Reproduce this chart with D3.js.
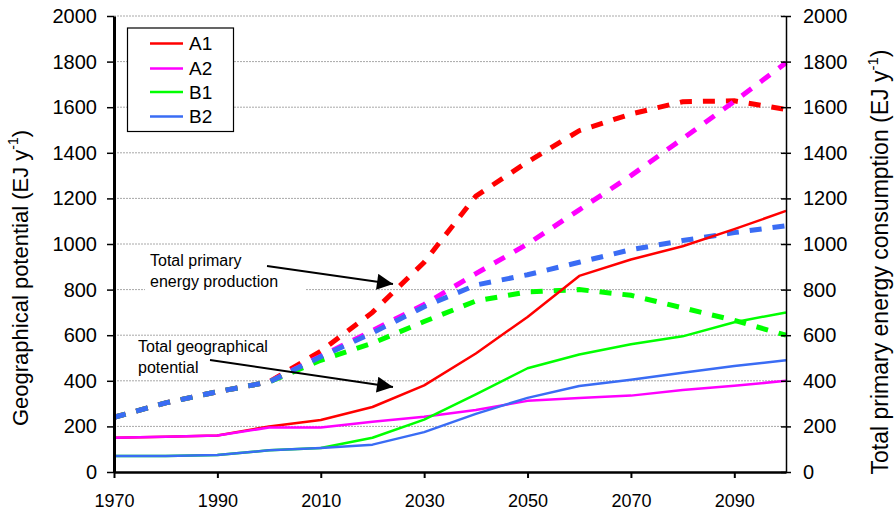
<!DOCTYPE html>
<html>
<head>
<meta charset="utf-8">
<script src="https://cdn.jsdelivr.net/npm/d3@7/dist/d3.min.js"></script>
<style>
  body { margin: 0; background: #fff; }
  text { font-family: Arial, "Liberation Sans", sans-serif; fill: #000; }
</style>
</head>
<body>
<div id="chart-area"></div>
<script>
// data
const years = [1970, 1980, 1990, 2000, 2010, 2020, 2030, 2040, 2050, 2060, 2070, 2080, 2090, 2100];
const scenarios = ['A1', 'A2', 'B1', 'B2'];
const colors = ['#ff0000', '#ff00ff', '#00ff00', '#3a6cf4'];

// total geographical potential (solid)
const potA1 = [150, 155, 160, 200, 228, 285, 380, 520, 680, 860, 932, 990, 1065, 1145];
const potA2 = [150, 155, 160, 195, 195, 220, 242, 272, 312, 325, 335, 360, 378, 400];
const potB1 = [70, 70, 75, 95, 105, 150, 230, 340, 455, 515, 560, 595, 657, 700];
const potB2 = [70, 70, 75, 95, 105, 120, 175, 255, 325, 377, 405, 435, 465, 490];

// total primary energy production (dashed)
const prodA1 = [240, 303, 352, 395, 530, 700, 920, 1210, 1360, 1497, 1570, 1624, 1628, 1590];
const prodA2 = [240, 303, 352, 395, 508, 620, 735, 870, 1000, 1150, 1300, 1462, 1625, 1795];
const prodB1 = [240, 303, 352, 395, 490, 565, 660, 750, 790, 800, 775, 720, 665, 600];
const prodB2 = [240, 303, 352, 395, 505, 610, 725, 820, 865, 920, 975, 1015, 1050, 1080];

const potential = [potA1, potA2, potB1, potB2];
const production = [prodA1, prodA2, prodB1, prodB2];

const xTicks = [1970, 1990, 2010, 2030, 2050, 2070, 2090];
const yTicks = [0, 200, 400, 600, 800, 1000, 1200, 1400, 1600, 1800, 2000];

// margins
const margin = { left: 114, right: 108, top: 16, bottom: 42 };
const W = 894, H = 514;
const width = W - margin.left - margin.right;
const height = H - margin.top - margin.bottom;

const svg = d3.select('#chart-area')
    .append('svg')
        .attr('width', W)
        .attr('height', H);

const g = svg.append('g')
    .attr('transform', `translate(${margin.left}, ${margin.top})`);

const x = d3.scaleLinear().domain([1970, 2100]).range([0, width]);
const y = d3.scaleLinear().domain([0, 2000]).range([height, 0]);

// gridlines
g.append('g')
    .selectAll('line')
    .data(yTicks.filter(t => t > 0))
    .enter()
        .append('line')
            .attr('x1', 0)
            .attr('x2', width)
            .attr('y1', d => y(d))
            .attr('y2', d => y(d))
            .attr('stroke', '#a8a8a8')
            .attr('stroke-width', 1)
            .attr('stroke-dasharray', '2,1');

// white box behind the upper annotation
g.append('rect')
    .attr('x', 31)
    .attr('y', 234)
    .attr('width', 160)
    .attr('height', 43)
    .attr('fill', '#fff');

const line = d3.line()
    .x((d, i) => x(years[i]))
    .y(d => y(d));

// dashed production lines
production.forEach((s, k) => {
    g.append('path')
        .datum(s)
        .attr('d', line)
        .attr('fill', 'none')
        .attr('stroke', colors[k])
        .attr('stroke-width', 5)
        .attr('stroke-dasharray', '12,11');
});

// solid potential lines
potential.forEach((s, k) => {
    g.append('path')
        .datum(s)
        .attr('d', line)
        .attr('fill', 'none')
        .attr('stroke', colors[k])
        .attr('stroke-width', 2.5)
        .attr('stroke-linejoin', 'round');
});

// axes
const xAxisCall = d3.axisBottom(x)
    .tickValues(xTicks)
    .tickFormat(d3.format('d'))
    .tickSizeInner(6)
    .tickSizeOuter(0)
    .tickPadding(16);
const xAxis = g.append('g')
    .attr('transform', `translate(0, ${height})`)
    .call(xAxisCall);
xAxis.select('.domain').attr('stroke-width', 2.5);
xAxis.selectAll('.tick line').attr('stroke-width', 2);
xAxis.selectAll('text').attr('font-size', '18px').attr('font-family', 'Arial, "Liberation Sans", sans-serif');

const yAxisCall = d3.axisLeft(y)
    .tickValues(yTicks)
    .tickFormat(d3.format('d'))
    .tickSizeInner(7)
    .tickSizeOuter(0)
    .tickPadding(10);
const yAxis = g.append('g').call(yAxisCall);
yAxis.select('.domain').attr('stroke-width', 3);
yAxis.selectAll('.tick line').attr('stroke-width', 1.5);
yAxis.selectAll('text').attr('font-size', '20px').attr('font-family', 'Arial, "Liberation Sans", sans-serif');

const y2AxisCall = d3.axisRight(y)
    .tickValues(yTicks)
    .tickFormat(d3.format('d'))
    .tickSizeInner(5)
    .tickSizeOuter(0)
    .tickPadding(12);
const y2Axis = g.append('g')
    .attr('transform', `translate(${width}, 0)`)
    .call(y2AxisCall);
y2Axis.select('.domain').attr('stroke-width', 1.5);
y2Axis.selectAll('.tick line').attr('x1', -5).attr('stroke-width', 1.5);
y2Axis.selectAll('text').attr('font-size', '20px').attr('font-family', 'Arial, "Liberation Sans", sans-serif');

// y labels
const yl = g.append('text')
    .attr('transform', `translate(${28 - margin.left}, ${262}) rotate(-90)`)
    .attr('text-anchor', 'middle')
    .attr('font-size', '22px');
yl.append('tspan').text('Geographical potential  (EJ y');
yl.append('tspan').attr('font-size', '14px').attr('dy', -10).text('-1');
yl.append('tspan').attr('dy', 10).text(')');

const yr = g.append('text')
    .attr('transform', `translate(${width + 102}, ${246}) rotate(-90)`)
    .attr('text-anchor', 'middle')
    .attr('font-size', '23px');
yr.append('tspan').text('Total primary energy consumption (EJ y');
yr.append('tspan').attr('font-size', '15px').attr('dy', -10).text('-1');
yr.append('tspan').attr('dy', 10).text(')');

// annotations
svg.append('defs').append('marker')
    .attr('id', 'head')
    .attr('viewBox', '0 0 10 10')
    .attr('refX', 10)
    .attr('refY', 5)
    .attr('markerWidth', 18)
    .attr('markerHeight', 16)
    .attr('markerUnits', 'userSpaceOnUse')
    .attr('orient', 'auto')
    .append('path')
        .attr('d', 'M0,0 L10,5 L0,10 z')
        .attr('fill', '#000');

const notes = [
    { lines: ['Total primary', 'energy production'], tx: 36, ty: 250, from: [153, 250], to: [279, 268] },
    { lines: ['Total geographical', 'potential'], tx: 24, ty: 336, from: [96, 344], to: [279, 371] }
];
notes.forEach(n => {
    g.append('line')
        .attr('x1', n.from[0]).attr('y1', n.from[1])
        .attr('x2', n.to[0]).attr('y2', n.to[1])
        .attr('stroke', '#000')
        .attr('stroke-width', 2)
        .attr('marker-end', 'url(#head)');
    const t = g.append('text')
        .attr('x', n.tx)
        .attr('y', n.ty)
        .attr('font-size', '16px');
    n.lines.forEach((l, i) => {
        t.append('tspan').attr('x', n.tx).attr('dy', i === 0 ? 0 : 21).text(l);
    });
});

// legend
const lg = svg.append('g');
lg.append('rect')
    .attr('x', 127.5)
    .attr('y', 28)
    .attr('width', 106)
    .attr('height', 103.5)
    .attr('fill', '#fff')
    .attr('stroke', '#000')
    .attr('stroke-width', 1.2);
const legendY = [43.5, 68.5, 92, 116.5];
scenarios.forEach((s, k) => {
    lg.append('line')
        .attr('x1', 150).attr('x2', 183)
        .attr('y1', legendY[k]).attr('y2', legendY[k])
        .attr('stroke', colors[k])
        .attr('stroke-width', 2.5);
    lg.append('text')
        .attr('x', 189)
        .attr('y', legendY[k])
        .attr('dy', '0.35em')
        .attr('font-size', '19px')
        .text(s);
});
</script>
</body>
</html>
